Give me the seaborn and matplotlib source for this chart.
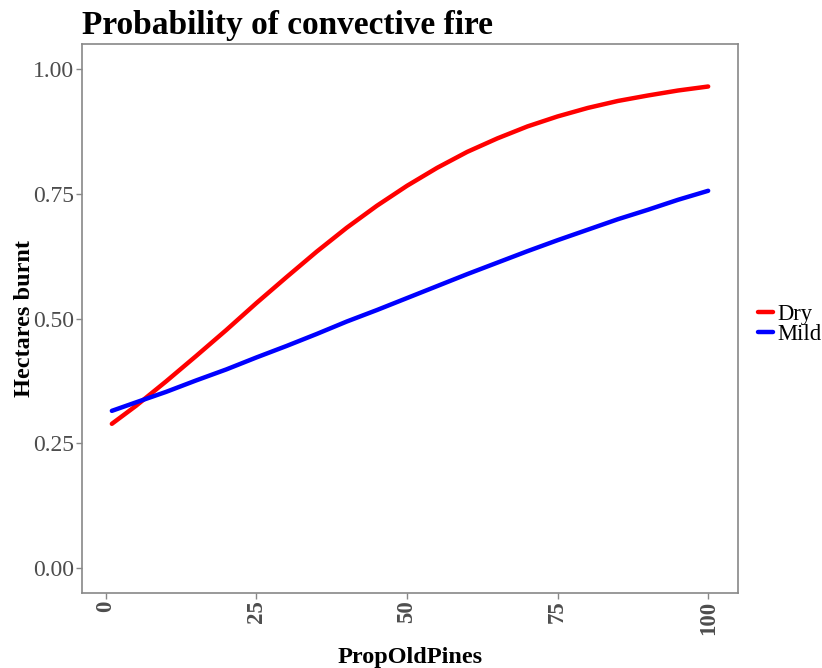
import pandas as pd
import matplotlib
matplotlib.use("Agg")
import matplotlib.pyplot as plt
import seaborn as sns

# values
prop_old_pines = [1, 5, 10, 15, 20, 25, 30, 35, 40, 45, 50,
                  55, 60, 65, 70, 75, 80, 85, 90, 95, 100]
dry = [0.289, 0.325, 0.374, 0.425, 0.477, 0.531, 0.583, 0.634, 0.682, 0.726, 0.766,
       0.802, 0.834, 0.861, 0.885, 0.905, 0.922, 0.936, 0.947, 0.957, 0.965]
mild = [0.315, 0.332, 0.353, 0.376, 0.398, 0.422, 0.445, 0.469, 0.494, 0.517, 0.541,
        0.565, 0.589, 0.612, 0.635, 0.657, 0.678, 0.699, 0.718, 0.738, 0.756]
x_ticks = [0, 25, 50, 75, 100]
y_ticks = [0.00, 0.25, 0.50, 0.75, 1.00]

df = pd.DataFrame({
    "PropOldPines": prop_old_pines * 2,
    "burnt": dry + mild,
    "Weather": ["Dry"] * len(dry) + ["Mild"] * len(mild),
})

sns.set_style("white")
plt.rcParams["font.family"] = ["Liberation Serif", "DejaVu Serif"]
plt.rcParams["text.color"] = "black"
plt.rcParams["axes.labelcolor"] = "black"

fig = plt.figure(figsize=(8.22, 6.68), dpi=100)
ax = fig.add_axes([0.0998, 0.1123, 0.798, 0.8217])

sns.lineplot(data=df, x="PropOldPines", y="burnt", hue="Weather",
             palette={"Dry": "#FF0000", "Mild": "#0000FF"}, linewidth=3.2,
             ax=ax)

ax.set_xlim(-3.95, 104.95)
ax.set_ylim(-0.05, 1.05)
ax.set_xticks(x_ticks)
ax.set_yticks(y_ticks)
ax.set_xticklabels([str(t) for t in x_ticks], rotation=90, fontweight="bold",
                   fontsize=16.5, color="#4D4D4D")
ax.set_yticklabels([f"{t:.2f}" for t in y_ticks], fontsize=17, color="#4D4D4D")
ax.tick_params(axis="both", length=4, width=1, color="#888888",
               bottom=True, left=True)
ax.tick_params(axis="x", pad=1.5)
ax.tick_params(axis="y", pad=2)

for s in ax.spines.values():
    s.set_color("#888888")
    s.set_linewidth(1.2)

ax.set_xlabel("PropOldPines", fontsize=17.5, fontweight="bold", labelpad=9)
ax.set_ylabel("Hectares burnt", fontsize=17.5, fontweight="bold", labelpad=-2)
ax.set_title("Probability of convective fire", fontsize=24, fontweight="bold",
             loc="left", pad=7, color="black")

leg = ax.legend(loc="center left", bbox_to_anchor=(0.922, 0.514),
                bbox_transform=fig.transFigure, frameon=False,
                fontsize=16.3, handlelength=0.66, handletextpad=0.22,
                labelspacing=-0.05, borderaxespad=0, borderpad=0)
for line in leg.get_lines():
    line.set_linewidth(3.2)

fig.savefig("out.png", dpi=100)
